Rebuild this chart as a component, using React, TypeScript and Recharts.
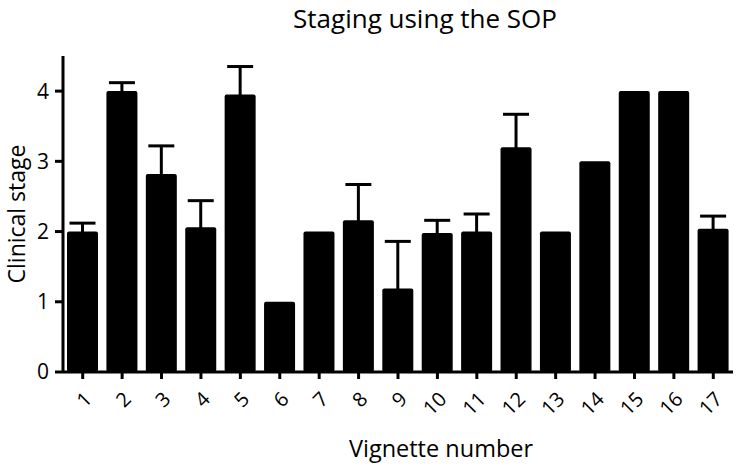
import React from 'react';
import { BarChart, Bar, XAxis, YAxis, ErrorBar } from 'recharts';

// vignette numbers, mean clinical stage, upper SD (null = no bar drawn)
const vignettes = ['1', '2', '3', '4', '5', '6', '7', '8', '9', '10', '11', '12', '13', '14', '15', '16', '17'];
const meanStage = [2.0, 4.0, 2.82, 2.06, 3.95, 1.0, 2.0, 2.16, 1.19, 1.98, 2.0, 3.2, 2.0, 3.0, 4.0, 4.0, 2.04];
const upperErr = [0.12, 0.12, 0.4, 0.38, 0.4, null, null, 0.51, 0.67, 0.18, 0.25, 0.47, null, null, null, null, 0.18];
const yTicks = [0, 1, 2, 3, 4];

const data = vignettes.map((v, i) => ({
  name: v,
  stage: meanStage[i],
  err: upperErr[i] == null ? null : [0.15, upperErr[i]],
}));

const font = '"Open Sans", sans-serif';

const XTick = ({ x, y, payload }: any) => (
  <g transform={`translate(${x + 5},${y + 14})`}>
    <text x={0} y={0} textAnchor="end" dominantBaseline="central" transform="rotate(-45)" fontFamily={font} fontSize={20} fill="#000">
      {payload.value}
    </text>
  </g>
);

export default function App() {
  return (
    <div style={{ position: 'absolute', left: 0, top: 0, width: 743, height: 466, background: '#fff' }}>
      <div
        style={{
          position: 'absolute',
          top: 0,
          left: 425,
          transform: 'translateX(-50%)',
          whiteSpace: 'nowrap',
          fontFamily: font,
          fontSize: 26,
          lineHeight: '36px',
          color: '#000',
        }}
      >
        Staging using the SOP
      </div>
      <BarChart width={743} height={466} data={data} margin={{ top: 56, right: 10, bottom: 0, left: 3 }} barSize={31}>
        <XAxis
          dataKey="name"
          height={94}
          tick={<XTick />}
          interval={0}
          tickSize={7}
          axisLine={{ stroke: '#000', strokeWidth: 3 }}
          tickLine={{ stroke: '#000', strokeWidth: 3 }}
          label={{ value: 'Vignette number', position: 'insideBottom', offset: 9, dx: 43, fontFamily: font, fontSize: 23.5, fill: '#000' }}
        />
        <YAxis
          width={60}
          domain={[0, 4.5]}
          ticks={yTicks}
          tickSize={8}
          tickMargin={6}
          axisLine={{ stroke: '#000', strokeWidth: 3 }}
          tickLine={{ stroke: '#000', strokeWidth: 3 }}
          tick={{ fontFamily: font, fontSize: 21, fill: '#000' }}
          label={{ value: 'Clinical stage', angle: -90, position: 'center', dx: -16, fontFamily: font, fontSize: 23, fill: '#000' }}
        />
        <Bar dataKey="stage" fill="#000" radius={2} isAnimationActive={false}>
          <ErrorBar dataKey="err" width={13} stroke="#000" strokeWidth={3} direction="y" />
        </Bar>
      </BarChart>
    </div>
  );
}
